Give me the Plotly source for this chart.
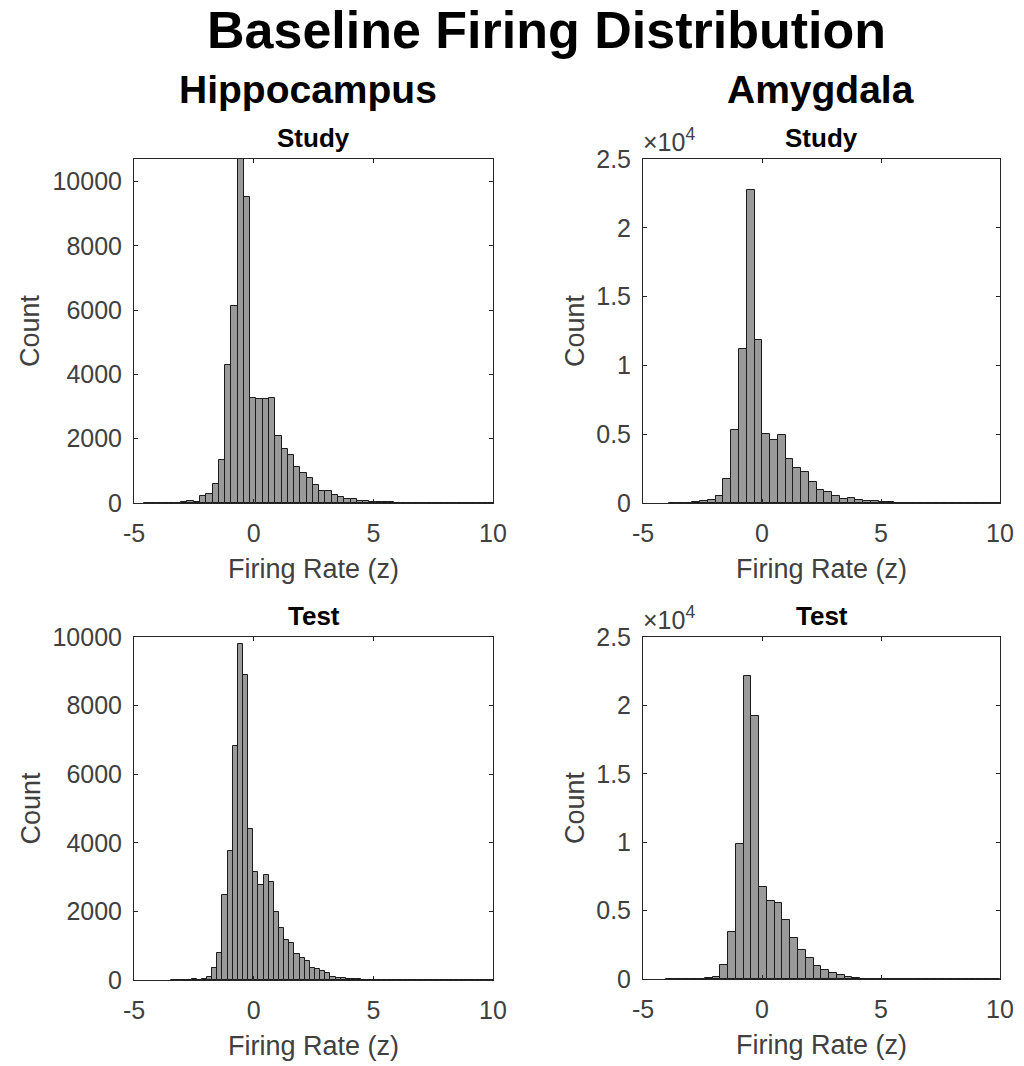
import plotly.graph_objects as go

# window is 1024x1066; the page body has an 8 px default margin
OFF = 8
W, H = 1024 - OFF, 1066 - OFF

# ---------------- data ----------------
hipp_study_bin_start = -4.60
hipp_study_bin_width = 0.262
hipp_study_counts = [2, 2, 3, 3, 5, 5,
                     40, 60, 40, 220, 280, 580, 1340, 4290, 6130,
                     10700, 9530, 3280, 3225, 3225, 3260, 2085, 1670, 1490, 1130, 945, 770, 560, 380, 370,
                     250, 200, 115, 125, 70, 60, 40, 30, 30, 20,
                     15, 10, 10, 8, 6, 5, 5, 4, 3, 3, 3, 2, 2, 2, 2, 2]

amyg_study_bin_start = -3.90
amyg_study_bin_width = 0.326
amyg_study_counts = [3, 5, 20, 60,
                     120, 190, 510, 1770, 5280, 11200,
                     22750, 11880, 4990, 4550, 4910, 3220, 2570, 2250, 1520, 970, 800, 480,
                     310, 360, 240, 145, 120, 70,
                     40, 30, 20, 15, 10, 8, 6, 5, 4, 3, 3, 2, 2, 2, 2]

hipp_test_bin_start = -3.455
hipp_test_bin_width = 0.215
hipp_test_counts = [2, 3, 5, 10, 15, 10, 20,
                    100, 340, 800, 2470, 3760, 6830, 9810, 8900,
                    4390, 3150, 2780, 3050, 2860, 1980, 1510, 1170, 1070, 750, 650, 560, 360, 310, 260,
                    200, 100, 70, 50, 30, 20,
                    15, 10, 8, 6, 5, 4, 3, 3, 3, 2, 2, 2, 2, 2, 2, 2, 1, 1, 1, 1, 1, 1, 1, 1, 1, 1, 1]

amyg_test_bin_start = -4.03
amyg_test_bin_width = 0.326
amyg_test_counts = [2, 3, 5, 10, 20, 40,
                    170, 1020, 3460, 9860, 22130, 19200,
                    6760, 5710, 5540, 4320, 2980, 2120, 1560, 950, 660, 420, 290,
                    120, 50, 30, 20,
                    15, 10, 8, 6, 5, 4, 3, 3, 2, 2, 2, 2, 2, 2, 2, 2]

x_ticks = [-5, 0, 5, 10]
hipp_y_ticks = [0, 2000, 4000, 6000, 8000, 10000]
amyg_y_ticks = [0, 5000, 10000, 15000, 20000, 25000]
amyg_y_ticktext = ["0", "0.5", "1", "1.5", "2", "2.5"]

main_title = "Baseline Firing Distribution"
region_titles = ["Hippocampus", "Amygdala"]
phase_titles = ["Study", "Test"]
x_label = "Firing Rate (z)"
y_label = "Count"

# ---------------- layout helpers ----------------
FONT = "Liberation Sans, Arial, Helvetica, sans-serif"
TICK_COLOR = "#404040"
AXLINE = "#262626"

def px_x(p):
    return (p - OFF) / W

def px_y(p):
    return 1 - (p - OFF) / H

# pixel boxes in window coordinates: (left, right, top, bottom)
boxes = {
    "hs": (134, 493, 159, 503),
    "as": (643, 1000, 159, 503),
    "ht": (134, 493, 637, 980),
    "at": (643, 1000, 637, 979),
}

panels = [
    ("hs", 1, hipp_study_bin_start, hipp_study_bin_width, hipp_study_counts, "hipp"),
    ("as", 2, amyg_study_bin_start, amyg_study_bin_width, amyg_study_counts, "amyg"),
    ("ht", 3, hipp_test_bin_start, hipp_test_bin_width, hipp_test_counts, "hipp_t"),
    ("at", 4, amyg_test_bin_start, amyg_test_bin_width, amyg_test_counts, "amyg"),
]

fig = go.Figure()
layout = dict(
    width=W, height=H,
    margin=dict(l=0, r=0, t=0, b=0, pad=0),
    paper_bgcolor="white", plot_bgcolor="white",
    showlegend=False, bargap=0,
    font=dict(family=FONT, color=TICK_COLOR),
)

annotations = []

for key, n, start, width, counts, kind in panels:
    centers = [start + width * (i + 0.5) for i in range(len(counts))]
    xa = "x" if n == 1 else f"x{n}"
    ya = "y" if n == 1 else f"y{n}"
    fig.add_trace(go.Bar(
        x=centers, y=counts, width=width,
        marker=dict(color="#9a9a9a", line=dict(color="#1c1c1c", width=1)),
        xaxis=xa, yaxis=ya, hoverinfo="x+y",
    ))
    l, r, t, b = boxes[key]
    common = dict(showgrid=False, zeroline=False, showline=True, linecolor=AXLINE,
                  linewidth=1, mirror="ticks", ticks="inside", ticklen=4,
                  tickcolor=AXLINE, tickwidth=1, automargin=False,
                  tickfont=dict(family=FONT, size=25, color=TICK_COLOR))
    xkey = "xaxis" if n == 1 else f"xaxis{n}"
    ykey = "yaxis" if n == 1 else f"yaxis{n}"
    layout[xkey] = dict(common, domain=[px_x(l), px_x(r)], range=[-5, 10],
                        tickvals=x_ticks, ticktext=[str(v) for v in x_ticks],
                        anchor=ya, ticklabelstandoff=8)
    if kind == "hipp":
        yr = [0, max(counts)]
        ytv, ytt = hipp_y_ticks, [str(v) for v in hipp_y_ticks]
    elif kind == "hipp_t":
        yr = [0, 10000]
        ytv, ytt = hipp_y_ticks, [str(v) for v in hipp_y_ticks]
    else:
        yr = [0, 25000]
        ytv, ytt = amyg_y_ticks, amyg_y_ticktext
    layout[ykey] = dict(common, domain=[px_y(b), px_y(t)], range=yr,
                        tickvals=ytv, ticktext=ytt, anchor=xa, ticklabelstandoff=6)

    cx = (l + r) / 2
    cy = (t + b) / 2
    # subplot title
    annotations.append(dict(text=f"<b>{phase_titles[0] if t < 300 else phase_titles[1]}</b>",
                            x=px_x(cx), y=px_y(t - 21), xref="paper", yref="paper",
                            showarrow=False, xanchor="center", yanchor="middle",
                            font=dict(family=FONT, size=26, color="black")))
    # x label
    annotations.append(dict(text=x_label, x=px_x(cx), y=px_y(b + 66), xref="paper", yref="paper",
                            showarrow=False, xanchor="center", yanchor="middle",
                            font=dict(family=FONT, size=27, color=TICK_COLOR)))
    # y label
    annotations.append(dict(text=y_label, x=px_x(l - 104 if l < 300 else l - 68), y=px_y(cy),
                            xref="paper", yref="paper", textangle=-90,
                            showarrow=False, xanchor="center", yanchor="middle",
                            font=dict(family=FONT, size=27, color=TICK_COLOR)))
    if kind == "amyg":
        annotations.append(dict(text="×10<sup>4</sup>", x=px_x(l - 2), y=px_y(t - 1),
                                xref="paper", yref="paper", showarrow=False,
                                xanchor="left", yanchor="bottom",
                                font=dict(family=FONT, size=25, color=TICK_COLOR)))

annotations.append(dict(text=f"<b>{main_title}</b>", x=px_x(546), y=px_y(30), xref="paper", yref="paper",
                        showarrow=False, xanchor="center", yanchor="middle",
                        font=dict(family=FONT, size=52, color="black")))
annotations.append(dict(text=f"<b>{region_titles[0]}</b>", x=px_x(308), y=px_y(90), xref="paper", yref="paper",
                        showarrow=False, xanchor="center", yanchor="middle",
                        font=dict(family=FONT, size=39, color="black")))
annotations.append(dict(text=f"<b>{region_titles[1]}</b>", x=px_x(820), y=px_y(90), xref="paper", yref="paper",
                        showarrow=False, xanchor="center", yanchor="middle",
                        font=dict(family=FONT, size=39, color="black")))

layout["annotations"] = annotations
fig.update_layout(**layout)
fig.write_html("out.html")
